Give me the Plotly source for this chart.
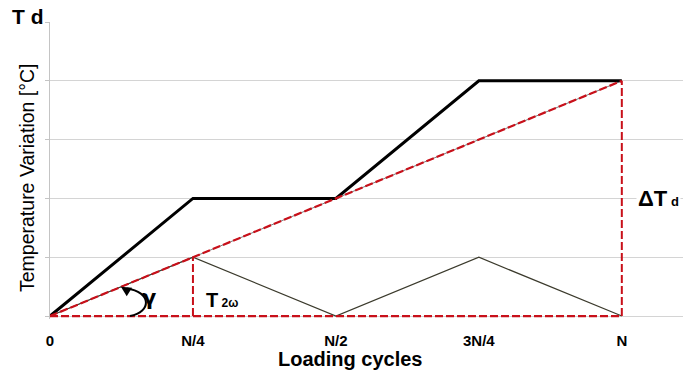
import plotly.graph_objects as go

# Loading cycles, as fractions of N
cycles = [0, 0.25, 0.5, 0.75, 1.0]
cycle_labels = ["0", "N/4", "N/2", "3N/4", "N"]

# Temperature variation (arbitrary grid units)
td_envelope = [0, 2, 2, 4, 4]      # cumulative T_d envelope
t_2w = [0, 1, 0, 1, 0]             # 2-omega oscillation
td_trend = [0, 1, 2, 3, 4]         # mean linear drift
baseline = [0, 0, 0, 0, 0]

RED = "#c8101a"
DASH = "8px,3px"
FONT = "Liberation Sans, Arial, sans-serif"

W, H = 685, 374
ML, MR, MT, MB = 50, 2, 22, 55
PW, PH = W - ML - MR, H - MT - MB


def px_to_paper(px, py):
    """Pixel position on the page -> paper coordinates."""
    return (px - ML) / PW, (H - MB - py) / PH


fig = go.Figure()

# faint reference line under the dashed trend
fig.add_trace(go.Scatter(x=cycles, y=td_trend, mode="lines",
                         line=dict(color="#7a7a7a", width=1)))
# 2-omega oscillation
fig.add_trace(go.Scatter(x=cycles, y=t_2w, mode="lines",
                         line=dict(color="#3b3a2c", width=1.2)))
# thick envelope
fig.add_trace(go.Scatter(x=cycles, y=td_envelope, mode="lines",
                         line=dict(color="black", width=3)))
# dashed linear trend
fig.add_trace(go.Scatter(x=cycles, y=td_trend, mode="lines",
                         line=dict(color=RED, width=2.2, dash=DASH)))
# dashed baseline
fig.add_trace(go.Scatter(x=cycles, y=baseline, mode="lines",
                         line=dict(color=RED, width=2.2, dash=DASH)))
# dashed verticals: T_2w amplitude at N/4 and total Delta T_d at N
fig.add_trace(go.Scatter(x=[cycles[1], cycles[1]], y=[baseline[1], t_2w[1]], mode="lines",
                         line=dict(color=RED, width=2, dash=DASH)))
fig.add_trace(go.Scatter(x=[cycles[4], cycles[4]], y=[baseline[4], td_trend[4]], mode="lines",
                         line=dict(color=RED, width=2, dash=DASH)))

# angle arc for gamma
fig.add_shape(type="path", xref="x", yref="y",
              path="M 0.140,0 C 0.178,0.07 0.178,0.41 0.134,0.47",
              line=dict(color="black", width=2))

ytx, yty = px_to_paper(27, 178)
tdx, tdy = px_to_paper(10, 16)
lcx, lcy = px_to_paper(350, 359)

annotations = [
    # arrow head of the angle arc
    dict(x=0.124, y=0.50, xref="x", yref="y", ax=8, ay=5, showarrow=True,
         arrowhead=2, arrowsize=1, arrowwidth=2, arrowcolor="black", text=""),
    dict(x=0.173, y=0.31, xref="x", yref="y", text="<b>γ</b>", showarrow=False,
         font=dict(size=21, color="black", family="DejaVu Sans, sans-serif"),
         xanchor="center"),
    dict(x=0.27, y=0.27, xref="x", yref="y", xanchor="left",
         text="<b>T</b><span style='font-size:12px'><b> 2ω</b></span>",
         showarrow=False, font=dict(size=20, color="black", family=FONT)),
    dict(x=1.0, y=2.0, xref="x", yref="y", xshift=14, xanchor="left",
         text="<b>ΔT</b><span style='font-size:13px'><b> d</b></span>",
         showarrow=False, bgcolor="white", borderpad=1,
         font=dict(size=22, color="black", family=FONT)),
    # axis titles and corner label
    dict(x=lcx, y=lcy, xref="paper", yref="paper", text="<b>Loading cycles</b>",
         showarrow=False, xanchor="center", yanchor="middle",
         font=dict(size=20, color="black", family=FONT)),
    dict(x=ytx, y=yty, xref="paper", yref="paper", text="Temperature Variation [°C]",
         showarrow=False, textangle=-90, xanchor="center", yanchor="middle",
         font=dict(size=19.5, color="black", family=FONT)),
    dict(x=tdx, y=tdy, xref="paper", yref="paper", text="<b>T d</b>",
         showarrow=False, xanchor="left", yanchor="middle",
         font=dict(size=21, color="black", family=FONT)),
]

fig.update_layout(
    width=W, height=H,
    margin=dict(l=ML, r=MR, t=MT, b=MB),
    paper_bgcolor="white", plot_bgcolor="white",
    showlegend=False,
    annotations=annotations,
    xaxis=dict(range=[0, 1.107], tickvals=cycles, ticktext=cycle_labels,
               showgrid=False, zeroline=False, showline=False, ticks="",
               ticklabelstandoff=11,
               tickfont=dict(size=15, color="black", family=FONT, weight="bold")),
    yaxis=dict(range=[-0.05, 5], tickvals=[0, 1, 2, 3, 4, 5], showgrid=True,
               gridcolor="#d4d4d4", gridwidth=1,
               zeroline=False, showline=True, linecolor="#c4c4c4", linewidth=1,
               ticks="outside", ticklen=4, tickcolor="#c4c4c4", showticklabels=False),
)

fig.write_html("out.html")
